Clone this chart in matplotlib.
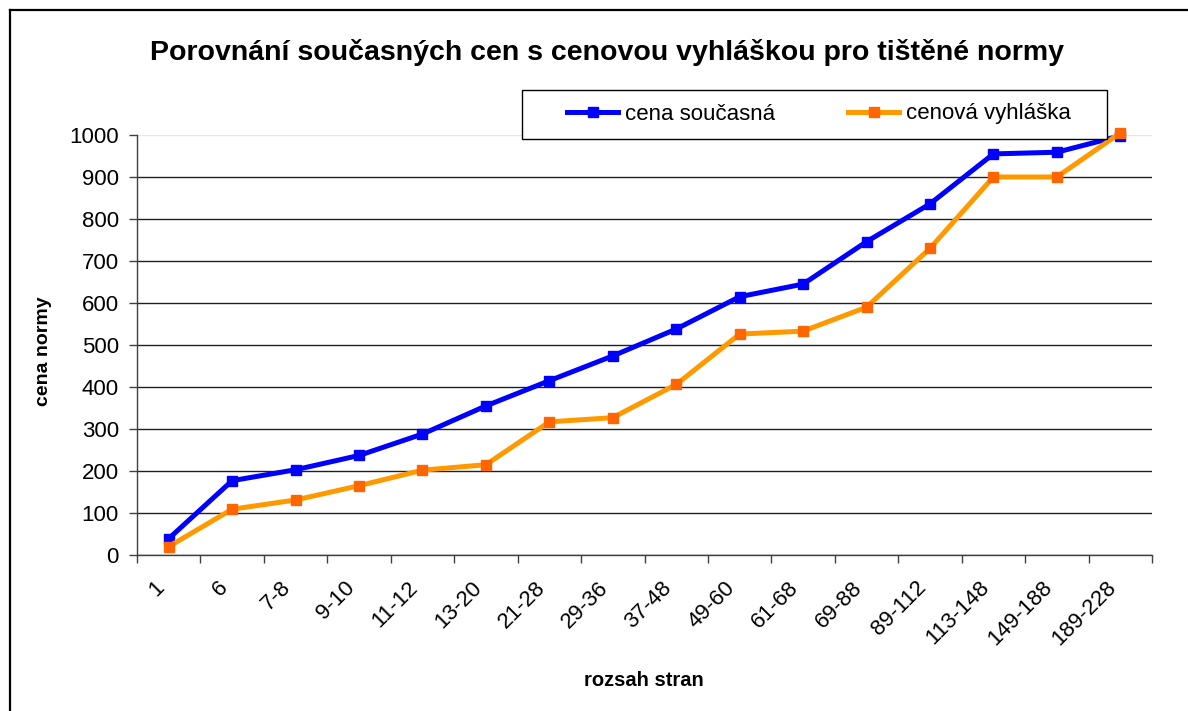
import matplotlib
matplotlib.use("Agg")
import matplotlib.pyplot as plt
from matplotlib.lines import Line2D
from matplotlib.patches import Rectangle
import numpy as np

categories = ['1', '6', '7-8', '9-10', '11-12', '13-20', '21-28', '29-36', '37-48',
              '49-60', '61-68', '69-88', '89-112', '113-148', '149-188', '189-228']
cena_soucasna = [39, 177, 203, 237, 288, 355, 415, 474, 538, 615, 645, 746, 836, 955, 959, 998]
cenova_vyhlaska = [20, 109, 131, 165, 202, 215, 317, 327, 406, 526, 533, 590, 730, 900, 900, 1005]
y_ticks = list(range(0, 1001, 100))

title = 'Porovnání současných cen s cenovou vyhláškou pro tištěné normy'
xlabel = 'rozsah stran'
ylabel = 'cena normy'

plt.rcParams['font.family'] = ['Liberation Sans', 'DejaVu Sans']

W, H = 1188, 711
fig = plt.figure(figsize=(W / 100, H / 100), dpi=100)
fx = lambda px: px / W
fy = lambda py: 1 - py / H

ax = fig.add_axes([fx(137), fy(555), fx(1152) - fx(137), fy(135) - fy(555)])
x = np.arange(len(categories))

ax.plot(x, cena_soucasna, color='#0000FF', lw=3.6, marker='s', ms=7.5,
        mfc='#0000FF', mec='#0000FF', label='cena současná', clip_on=False, zorder=3)
ax.plot(x, cenova_vyhlaska, color='#FF9900', lw=3.6, marker='s', ms=7.5,
        mfc='#FF6600', mec='#FF6600', label='cenová vyhláška', clip_on=False, zorder=3)

ax.set_xlim(-0.5, len(categories) - 0.5)
ax.set_ylim(0, 1000)
ax.set_yticks(y_ticks)
ax.set_yticklabels([str(v) for v in y_ticks], fontsize=16)
ax.set_xticks(x)
ax.set_xticklabels(categories, fontsize=16, rotation=45, ha='right')
ax.set_xticks(np.arange(len(categories) + 1) - 0.5, minor=True)
ax.tick_params(axis='x', which='major', length=0, pad=16)
ax.tick_params(axis='x', which='minor', length=6, direction='out', color='#404040', width=1)
ax.tick_params(axis='y', length=6, direction='out', color='#404040', width=1, pad=7)

ax.yaxis.grid(True, color='#202020', lw=1)
gl = ax.get_ygridlines()
gl[-1].set_color('#e6e6e6')
ax.set_axisbelow(True)

for s in ['top', 'right']:
    ax.spines[s].set_visible(False)
for s in ['left', 'bottom']:
    ax.spines[s].set_color('#404040')
    ax.spines[s].set_linewidth(1)

# legend frame and legend
fig.add_artist(Rectangle((fx(522), fy(139)), fx(1107) - fx(522), fy(90) - fy(139),
                         transform=fig.transFigure, facecolor='white', edgecolor='black',
                         lw=1, zorder=4))
handles, labels = ax.get_legend_handles_labels()
leg = fig.legend(handles, labels, loc='center', bbox_to_anchor=(fx(819), fy(114)),
                 ncol=2, frameon=False, fontsize=16, handlelength=2.3,
                 handletextpad=0.3, columnspacing=3.3, borderpad=0.3)
leg.set_zorder(5)

fig.text(fx(607), fy(53), title, ha='center', va='center', fontsize=20.5, fontweight='bold')
fig.text(fx(644), fy(681), xlabel, ha='center', va='center', fontsize=14.5, fontweight='bold')
fig.text(fx(43), fy(351), ylabel, ha='center', va='center', rotation=90,
         fontsize=14, fontweight='bold')

# outer chart frame (cut off at right and bottom)
fig.add_artist(Line2D([fx(10), fx(10)], [fy(10), 0], transform=fig.transFigure,
                      color='black', lw=1.6))
fig.add_artist(Line2D([fx(10), 1], [fy(10), fy(10)], transform=fig.transFigure,
                      color='black', lw=1.6))

fig.savefig('out.png', dpi=100)
